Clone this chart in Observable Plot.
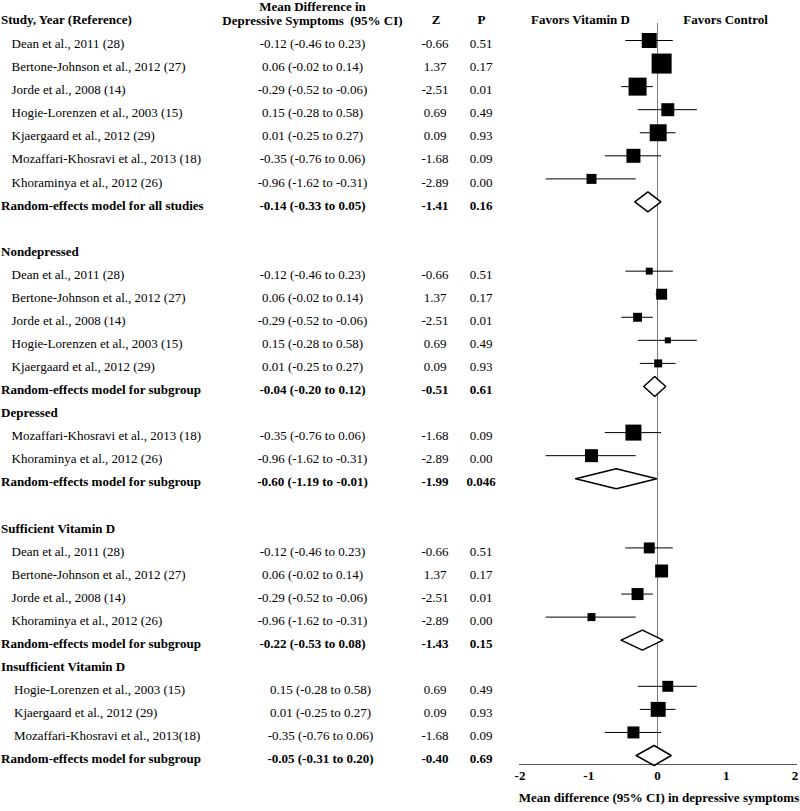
<!DOCTYPE html>
<html>
<head>
<meta charset="utf-8">
<script src="https://cdn.jsdelivr.net/npm/d3@7"></script>
<script src="https://cdn.jsdelivr.net/npm/@observablehq/plot@0.6"></script>
<style>
  body { margin: 0; background: #fff; }
  #chart svg { display: block; }
</style>
</head>
<body>
<div id="chart"></div>
<script>
// ---------- data ----------
const studyNames = [
  "Dean et al., 2011 (28)",
  "Bertone-Johnson et al., 2012 (27)",
  "Jorde et al., 2008 (14)",
  "Hogie-Lorenzen et al., 2003 (15)",
  "Kjaergaard et al., 2012 (29)",
  "Mozaffari-Khosravi et al., 2013 (18)",
  "Khoraminya et al., 2012 (26)"
];
const studyMD = [-0.12, 0.06, -0.29, 0.15, 0.01, -0.35, -0.96];
const studyLo = [-0.46, -0.02, -0.52, -0.28, -0.25, -0.76, -1.62];
const studyHi = [0.23, 0.14, -0.06, 0.58, 0.27, 0.06, -0.31];
const studyZ = [-0.66, 1.37, -2.51, 0.69, 0.09, -1.68, -2.89];
const studyP = ["0.51", "0.17", "0.01", "0.49", "0.93", "0.09", "0.00"];

const groupNames = [null, "Nondepressed", "Depressed", "Sufficient Vitamin D", "Insufficient Vitamin D"];
const groupMembers = [[0, 1, 2, 3, 4, 5, 6], [0, 1, 2, 3, 4], [5, 6], [0, 1, 2, 6], [3, 4, 5]];
const groupWeights = [[56, 100, 81, 42, 72, 49, 25], [12, 30, 20, 9, 16], [64, 42], [30, 42, 36, 16], [30, 56, 36]];
const groupLabelOverrides = [{}, {}, {}, {}, {5: "Mozaffari-Khosravi et al., 2013(18)"}];
const groupGapAfter = [true, false, true, false, false];

const pooledLabels = [
  "Random-effects model for all studies",
  "Random-effects model for subgroup",
  "Random-effects model for subgroup",
  "Random-effects model for subgroup",
  "Random-effects model for subgroup"
];
const pooledMD = [-0.14, -0.04, -0.60, -0.22, -0.05];
const pooledLo = [-0.33, -0.20, -1.19, -0.53, -0.31];
const pooledHi = [0.05, 0.12, -0.01, 0.08, 0.20];
const pooledZ = [-1.41, -0.51, -1.99, -1.43, -0.40];
const pooledP = ["0.16", "0.61", "0.046", "0.15", "0.69"];

const xTicks = [-2, -1, 0, 1, 2];
const headerStudy = "Study, Year (Reference)";
const headerMD1 = "Mean Difference in";
const headerMD2 = "Depressive Symptoms  (95% CI)";
const headerZ = "Z";
const headerP = "P";
const favorsLeft = "Favors Vitamin D";
const favorsRight = "Favors Control";
const xTitle = "Mean difference (95% CI) in depressive symptoms";

// ---------- build rows ----------
const rows = [];
let r = 1;
groupNames.forEach((name, gi) => {
  if (name) rows.push({row: r++, type: "header", label: name, group: gi});
  groupMembers[gi].forEach((si, k) => {
    rows.push({
      row: r++, type: "study", group: gi,
      label: groupLabelOverrides[gi][si] || studyNames[si],
      md: studyMD[si], lo: studyLo[si], hi: studyHi[si],
      z: studyZ[si], p: studyP[si], weight: groupWeights[gi][k]
    });
  });
  rows.push({
    row: r++, type: "pooled", group: gi, label: pooledLabels[gi],
    md: pooledMD[gi], lo: pooledLo[gi], hi: pooledHi[gi], z: pooledZ[gi], p: pooledP[gi]
  });
  if (groupGapAfter[gi]) r++;
});

const fmt = v => v.toFixed(2);
const mdText = d => `${fmt(d.md)} (${fmt(d.lo)} to ${fmt(d.hi)})`;
const zText = d => fmt(d.z);

const studies = rows.filter(d => d.type === "study");
const pooled = rows.filter(d => d.type === "pooled");
const headers = rows.filter(d => d.type === "header");

// ---------- layout ----------
const W = 800, H = 811;
const ML = 519.5, MR = 5.5, MT = 40, MB = 47;
const yDomain = [1, 32.39];
const rowPx = (H - MT - MB) / (yDomain[1] - yDomain[0]);
const diamondHalf = 10 / rowPx;
const col = {label: 11, bold: 0.5, md: 312, z: 434.5, p: 480.5};
const TX = {frameAnchor: "left", lineAnchor: "middle", dy: 3.5, fontSize: 13, fill: "#000"};
const HD = {text: d => d, lineAnchor: "middle", fontWeight: "bold", fontSize: 13, fill: "#000"};
const lastG = 4, lastShiftLabel = 2.5, lastShiftMD = 8;

const diamondPts = pooled.flatMap(d => [
  {id: d.row, x: d.lo, y: d.row},
  {id: d.row, x: d.md, y: d.row - diamondHalf},
  {id: d.row, x: d.hi, y: d.row},
  {id: d.row, x: d.md, y: d.row + diamondHalf},
  {id: d.row, x: d.lo, y: d.row}
]);

const chart = Plot.plot({
  width: W, height: H,
  marginLeft: ML, marginRight: MR, marginTop: MT, marginBottom: MB,
  x: {domain: [-2, 2]},
  y: {domain: yDomain, reverse: true, axis: null},
  r: {type: "sqrt", domain: [0, 100], range: [0, 20 / Math.sqrt(Math.PI)]},
  style: {fontFamily: "'Liberation Serif', 'Times New Roman', serif", fontSize: "13px", background: "#fff", color: "#000"},
  marks: [
    // zero line & axis line
    Plot.ruleX([0], {stroke: "#7a7a7a", strokeWidth: 1, insetTop: -17}),
    Plot.ruleY([yDomain[1]], {stroke: "#555", strokeWidth: 1, insetLeft: -0.5, insetRight: -2.5}),
    Plot.axisX({ticks: xTicks, tickSize: 0, tickPadding: 6, tickFormat: d => String(d), fontWeight: "bold", fontSize: 13, label: null, fill: "#000"}),
    // CIs and squares
    Plot.ruleY(studies, {y: "row", x1: "lo", x2: "hi", stroke: "#000", strokeWidth: 1}),
    Plot.dot(studies, {x: "md", y: "row", r: "weight", symbol: "square", fill: "#000", stroke: null}),
    // diamonds
    Plot.line(diamondPts, {x: "x", y: "y", z: "id", fill: "#fff", stroke: "#000", strokeWidth: 1.5, curve: "linear", strokeLinejoin: "miter"}),
    // study labels
    Plot.text(studies.filter(d => d.group !== lastG), {...TX, y: "row", text: "label", textAnchor: "start", dx: col.label - ML}),
    Plot.text(studies.filter(d => d.group === lastG), {...TX, y: "row", text: "label", textAnchor: "start", dx: col.label + lastShiftLabel - ML}),
    Plot.text(studies.filter(d => d.group !== lastG), {...TX, y: "row", text: mdText, textAnchor: "middle", dx: col.md - ML}),
    Plot.text(studies.filter(d => d.group === lastG), {...TX, y: "row", text: mdText, textAnchor: "middle", dx: col.md + lastShiftMD - ML}),
    Plot.text(studies, {...TX, y: "row", text: zText, textAnchor: "middle", dx: col.z - ML}),
    Plot.text(studies, {...TX, y: "row", text: "p", textAnchor: "middle", dx: col.p - ML}),
    // group headers and pooled rows (bold)
    Plot.text(headers, {...TX, y: "row", text: "label", textAnchor: "start", dx: col.bold - ML, fontWeight: "bold"}),
    Plot.text(pooled, {...TX, y: "row", text: "label", textAnchor: "start", dx: col.bold - ML, fontWeight: "bold"}),
    Plot.text(pooled.filter(d => d.group !== lastG), {...TX, y: "row", text: mdText, textAnchor: "middle", dx: col.md - ML, fontWeight: "bold"}),
    Plot.text(pooled.filter(d => d.group === lastG), {...TX, y: "row", text: mdText, textAnchor: "middle", dx: col.md + lastShiftMD - ML, fontWeight: "bold"}),
    Plot.text(pooled, {...TX, y: "row", text: zText, textAnchor: "middle", dx: col.z - ML, fontWeight: "bold"}),
    Plot.text(pooled, {...TX, y: "row", text: "p", textAnchor: "middle", dx: col.p - ML, fontWeight: "bold"}),
    // column headers
    Plot.text([headerStudy], {...HD, frameAnchor: "top-left", textAnchor: "start", dx: col.bold - ML, dy: -20.2}),
    Plot.text([headerMD1], {...HD, frameAnchor: "top-left", textAnchor: "middle", dx: col.md - ML, dy: -33.5}),
    Plot.text([headerMD2], {...HD, frameAnchor: "top-left", textAnchor: "middle", dx: col.md - ML, dy: -19.5}),
    Plot.text([headerZ], {...HD, frameAnchor: "top-left", textAnchor: "middle", dx: col.z + 1 - ML, dy: -20.2}),
    Plot.text([headerP], {...HD, frameAnchor: "top-left", textAnchor: "middle", dx: col.p + 0.5 - ML, dy: -20.2}),
    Plot.text([favorsLeft], {...HD, frameAnchor: "top", textAnchor: "middle", dx: -77, dy: -20.2}),
    Plot.text([favorsRight], {...HD, frameAnchor: "top", textAnchor: "middle", dx: 68, dy: -20.2}),
    // x title
    Plot.text([xTitle], {...HD, frameAnchor: "bottom", textAnchor: "middle", dx: 1.5, dy: 33.8})
  ]
});
document.getElementById("chart").appendChild(chart);
</script>
</body>
</html>
